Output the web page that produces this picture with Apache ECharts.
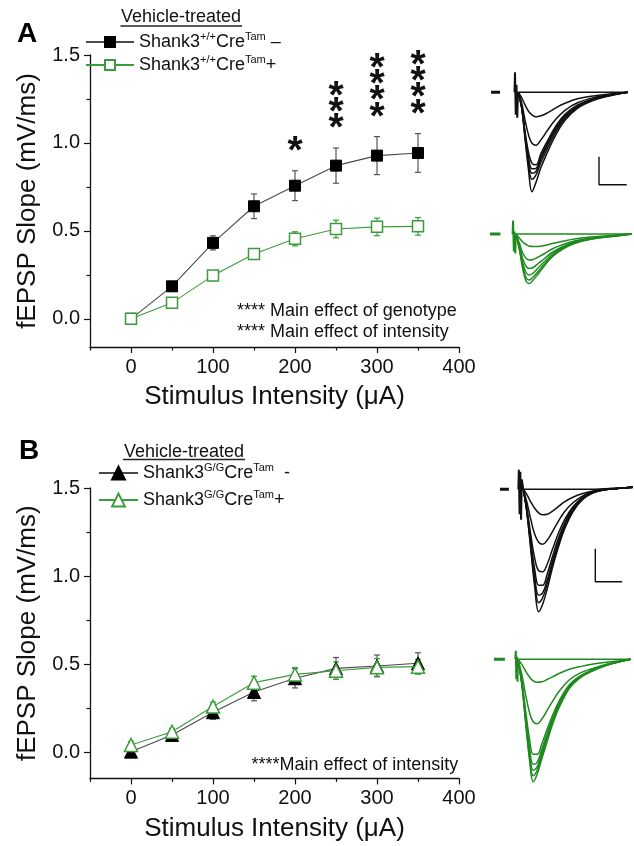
<!DOCTYPE html>
<html><head><meta charset="utf-8">
<script src="https://cdn.jsdelivr.net/npm/echarts@6/dist/echarts.min.js"></script>
<style>html,body{margin:0;padding:0;background:#fff}#c{width:634px;height:846px}</style>
</head><body><div id="c"></div>
<script>
// ---------- data ----------
const intensity = [0, 50, 100, 150, 200, 250, 300, 350];
const aCtrlMean = [0.0, 0.185, 0.432, 0.64, 0.757, 0.871, 0.928, 0.943];
const aCtrlErr  = [0.01, 0.02, 0.04, 0.07, 0.085, 0.10, 0.108, 0.11];
const aCreMean  = [0.0, 0.091, 0.246, 0.369, 0.455, 0.511, 0.523, 0.526];
const aCreErr   = [0.01, 0.015, 0.015, 0.03, 0.04, 0.05, 0.05, 0.05];
const bCtrlMean = [0.002, 0.097, 0.226, 0.341, 0.419, 0.475, 0.489, 0.504];
const bCtrlErr  = [0.02, 0.03, 0.04, 0.05, 0.055, 0.062, 0.062, 0.06];
const bCreMean  = [0.04, 0.115, 0.258, 0.394, 0.441, 0.462, 0.481, 0.485];
const bCreErr   = [0.02, 0.02, 0.025, 0.036, 0.038, 0.05, 0.05, 0.042];
const starX     = [200, 250, 300, 350];
const starCount = [1, 3, 4, 4];
const xMajorTicks = [0, 100, 200, 300, 400];
const xMinorTicks = [-50, 50, 150, 250, 350];
const yMajorTicks = [0, 0.5, 1.0, 1.5];
const yMinorTicks = [0.25, 0.75, 1.25];
const nameA1 = 'Shank3+/+CreTam –';
const nameA2 = 'Shank3+/+CreTam+';
const nameB1 = 'Shank3G/GCreTam  -';
const nameB2 = 'Shank3G/GCreTam+';

// example traces (time in ms, voltage in mV)
const tA = [5.6, 6.3, 7.0, 7.7, 8.4, 9.2, 10.2, 11.5, 13, 15, 17.5, 21, 24.5, 27.6];
const tracesA = [
  [0, 0, 0, 0, 0, 0, 0, 0, 0, 0, 0, 0, 0, 0],
  [0, -0.1, -0.25, -0.38, -0.45, -0.49, -0.47, -0.41, -0.32, -0.22, -0.13, -0.07, -0.03, 0],
  [0, -0.2, -0.55, -0.85, -1.02, -1.06, -0.95, -0.76, -0.56, -0.36, -0.21, -0.1, -0.04, 0],
  [0, -0.25, -0.78, -1.2, -1.42, -1.45, -1.22, -0.97, -0.7, -0.44, -0.25, -0.12, -0.04, 0],
  [0, -0.26, -0.82, -1.3, -1.53, -1.52, -1.28, -1.02, -0.74, -0.47, -0.27, -0.13, -0.05, 0],
  [0, -0.27, -0.85, -1.38, -1.62, -1.58, -1.33, -1.06, -0.77, -0.49, -0.28, -0.13, -0.05, 0],
  [0, -0.28, -0.88, -1.45, -1.74, -1.65, -1.4, -1.12, -0.82, -0.52, -0.3, -0.14, -0.05, 0],
  [0, -0.3, -0.92, -1.55, -1.99, -1.8, -1.5, -1.2, -0.88, -0.56, -0.32, -0.15, -0.06, 0]
];
const tAG = [5.2, 5.9, 6.6, 7.3, 7.9, 8.7, 9.7, 11, 12.5, 14.5, 17, 20.5, 24.5, 28.6];
const tracesAG = [
  [0, 0, 0, 0, 0, 0, 0, 0, 0, 0, 0, 0, 0, 0],
  [0, -0.08, -0.16, -0.21, -0.24, -0.25, -0.25, -0.23, -0.19, -0.15, -0.1, -0.06, -0.03, 0],
  [0, -0.18, -0.38, -0.49, -0.52, -0.51, -0.46, -0.39, -0.3, -0.22, -0.14, -0.08, -0.04, 0],
  [0, -0.22, -0.5, -0.65, -0.69, -0.67, -0.59, -0.49, -0.37, -0.26, -0.16, -0.09, -0.04, 0],
  [0, -0.26, -0.58, -0.78, -0.82, -0.78, -0.68, -0.55, -0.41, -0.28, -0.17, -0.09, -0.04, 0],
  [0, -0.28, -0.65, -0.88, -0.92, -0.86, -0.75, -0.6, -0.44, -0.3, -0.18, -0.1, -0.05, 0],
  [0, -0.3, -0.7, -0.95, -0.99, -0.92, -0.8, -0.63, -0.46, -0.31, -0.19, -0.1, -0.05, 0]
];
const tB = [5.7, 6.4, 7.2, 8.0, 8.8, 9.6, 10.5, 11.5, 12.7, 14, 15.7, 17.5, 19.5, 22, 25, 27.8];
const tracesB = [
  [0, 0, 0, 0, 0, 0, 0, 0, 0, 0, 0, 0, 0, 0.01, 0.02, 0.04],
  [0, -0.1, -0.25, -0.38, -0.47, -0.51, -0.5, -0.44, -0.35, -0.25, -0.16, -0.09, -0.04, 0, 0.02, 0.04],
  [0, -0.25, -0.6, -0.9, -1.06, -1.1, -1.02, -0.86, -0.65, -0.45, -0.27, -0.14, -0.05, 0, 0.02, 0.04],
  [0, -0.36, -0.9, -1.38, -1.63, -1.65, -1.5, -1.22, -0.9, -0.61, -0.35, -0.17, -0.06, -0.01, 0.02, 0.04],
  [0, -0.4, -1.02, -1.6, -1.92, -1.92, -1.7, -1.37, -1.0, -0.68, -0.38, -0.19, -0.07, -0.01, 0.02, 0.04],
  [0, -0.42, -1.1, -1.75, -2.12, -2.07, -1.82, -1.46, -1.07, -0.73, -0.41, -0.2, -0.07, -0.01, 0.02, 0.04],
  [0, -0.43, -1.15, -1.85, -2.27, -2.17, -1.9, -1.52, -1.12, -0.76, -0.43, -0.21, -0.08, -0.01, 0.02, 0.04],
  [0, -0.45, -1.2, -1.95, -2.45, -2.3, -2.0, -1.6, -1.18, -0.8, -0.45, -0.22, -0.08, -0.01, 0.02, 0.04]
];
const tBG = [5.6, 6.4, 7.2, 8.0, 8.7, 9.5, 10.4, 11.4, 12.6, 14, 16, 18, 20.5, 23.5, 26, 28.3];
const tracesBG = [
  [0, 0, 0, 0, 0, 0, 0, 0, 0, 0, 0, 0, 0, 0, 0, 0],
  [0, -0.1, -0.24, -0.36, -0.43, -0.46, -0.45, -0.41, -0.35, -0.28, -0.2, -0.15, -0.1, -0.06, -0.03, 0],
  [0, -0.3, -0.72, -1.08, -1.25, -1.29, -1.2, -1.04, -0.84, -0.63, -0.41, -0.28, -0.19, -0.1, -0.05, 0],
  [0, -0.42, -1.05, -1.62, -1.9, -1.9, -1.7, -1.43, -1.12, -0.82, -0.51, -0.34, -0.22, -0.11, -0.05, 0],
  [0, -0.45, -1.15, -1.8, -2.1, -2.06, -1.81, -1.52, -1.18, -0.86, -0.53, -0.35, -0.22, -0.11, -0.05, 0],
  [0, -0.47, -1.2, -1.9, -2.22, -2.15, -1.88, -1.57, -1.22, -0.89, -0.55, -0.36, -0.23, -0.11, -0.05, 0],
  [0, -0.48, -1.25, -1.98, -2.33, -2.22, -1.94, -1.62, -1.26, -0.92, -0.56, -0.37, -0.23, -0.12, -0.05, 0],
  [0, -0.5, -1.3, -2.05, -2.45, -2.3, -2.0, -1.68, -1.3, -0.95, -0.58, -0.38, -0.24, -0.12, -0.05, 0]
];
// pre-stimulus baseline dash [t0, t1], stimulus artifact (t, v), scale bars
const dashA = [0.2, 2.0];
const dashAG = [0.0, 2.1];
const dashB = [1.0, 2.8];
const dashBG = [0.8, 3.0];
const artA  = [[4.9, 0], [5.0, 0.4], [5.15, -0.45], [5.3, 0.15], [5.45, -0.51], [5.6, 0]];
const artAG = [[4.55, 0], [4.65, 0.27], [4.8, -0.35], [4.95, 0.05], [5.1, -0.39], [5.2, 0]];
const artB  = [[4.7, 0], [4.8, 0.39], [4.95, -0.5], [5.1, 0.35], [5.25, -0.61], [5.4, 0.2], [5.7, 0]];
const artBG = [[5.1, 0], [5.2, 0.17], [5.3, -0.4], [5.45, 0.05], [5.55, -0.45], [5.6, 0]];
const scaleA = [[21.8, -1.29], [21.8, -1.85], [27.34, -1.85]];
const scaleB = [[20.2, -1.19], [20.2, -1.85], [25.6, -1.85]];

// ---------- styles ----------
const FF = '"Liberation Sans", Arial, sans-serif';
const BLACK_LINE = '#4a4a4a';
const GREEN = '#3b9c3b';
const GREEN_TR = '#1f8a1f';

const chart = echarts.init(document.getElementById('c'), null, {renderer: 'canvas'});

const gridsMain = [
  {left: 90, top: 55, width: 369, height: 292},
  {left: 90, top: 488, width: 369, height: 290.4}
];
const yMins = [-0.16, -0.15];
const gridsTrace = [
  {left: 490, top: 72.3, width: 140, height: 130, x: [0, 28], y: [-2.2, 0.4]},
  {left: 490, top: 214, width: 145, height: 90, x: [0, 29], y: [-1.4, 0.4]},
  {left: 495, top: 469.3, width: 140, height: 150, x: [0, 28], y: [-2.6, 0.4]},
  {left: 490, top: 639.3, width: 145, height: 150, x: [0, 29], y: [-2.6, 0.4]}
];

const grid = [], xAxis = [], yAxis = [];
gridsMain.forEach((g, gi) => {
  grid.push(Object.assign({containLabel: false}, g));
  const axLine = {show: true, onZero: false, lineStyle: {color: '#111', width: 1.3}};
  xAxis.push({
    gridIndex: gi, type: 'value', min: -50, max: 400, position: 'bottom',
    axisLine: axLine, splitLine: {show: false},
    axisTick: {show: true, inside: false, length: 6, customValues: xMajorTicks, lineStyle: {color: '#111', width: 1.2}},
    axisLabel: {show: true, customValues: xMajorTicks, margin: 10, fontSize: 20, color: '#111', fontFamily: FF},
    name: 'Stimulus Intensity (μA)', nameLocation: 'middle', nameGap: 37,
    nameTextStyle: {fontSize: 26, color: '#111', fontFamily: FF}
  });
  xAxis.push({
    gridIndex: gi, type: 'value', min: -50, max: 400, position: 'bottom',
    axisLine: {show: false, onZero: false}, splitLine: {show: false},
    axisTick: {show: true, inside: false, length: 3.5, customValues: xMinorTicks, lineStyle: {color: '#111', width: 1.2}},
    axisLabel: {show: false}
  });
  yAxis.push({
    gridIndex: gi, type: 'value', min: yMins[gi], max: 1.5, position: 'left',
    axisLine: axLine, splitLine: {show: false},
    axisTick: {show: true, inside: false, length: 6, customValues: yMajorTicks, lineStyle: {color: '#111', width: 1.2}},
    axisLabel: {show: true, customValues: yMajorTicks, margin: 10, fontSize: 20, color: '#111', fontFamily: FF,
      formatter: v => v.toFixed(1)},
    name: 'fEPSP Slope (mV/ms)', nameLocation: 'middle', nameGap: 45,
    nameTextStyle: {fontSize: 26, color: '#111', fontFamily: FF}
  });
  yAxis.push({
    gridIndex: gi, type: 'value', min: yMins[gi], max: 1.5, position: 'left',
    axisLine: {show: false, onZero: false}, splitLine: {show: false},
    axisTick: {show: true, inside: false, length: 3.5, customValues: yMinorTicks, lineStyle: {color: '#111', width: 1.2}},
    axisLabel: {show: false}
  });
});
gridsTrace.forEach((g, k) => {
  grid.push({left: g.left, top: g.top, width: g.width, height: g.height});
  xAxis.push({gridIndex: 2 + k, type: 'value', min: g.x[0], max: g.x[1], show: false});
  yAxis.push({gridIndex: 2 + k, type: 'value', min: g.y[0], max: g.y[1], show: false});
});
const TRACE_AXIS0 = 4; // first trace axis index (after 2 axes per main grid)

const series = [];
function errSeries(gi, means, errs, color) {
  return {
    type: 'custom', xAxisIndex: gi * 2, yAxisIndex: gi * 2, z: 3, silent: true,
    data: intensity.map((x, i) => [x, means[i] - errs[i], means[i] + errs[i]]),
    encode: {x: 0, y: [1, 2]},
    renderItem: (params, api) => {
      const lo = api.coord([api.value(0), api.value(1)]);
      const hi = api.coord([api.value(0), api.value(2)]);
      const w = 3;
      const st = {stroke: color, lineWidth: 1.2};
      return {type: 'group', children: [
        {type: 'line', shape: {x1: lo[0], y1: lo[1], x2: hi[0], y2: hi[1]}, style: st},
        {type: 'line', shape: {x1: lo[0] - w, y1: lo[1], x2: lo[0] + w, y2: lo[1]}, style: st},
        {type: 'line', shape: {x1: hi[0] - w, y1: hi[1], x2: hi[0] + w, y2: hi[1]}, style: st}
      ]};
    }
  };
}
function meanSeries(gi, name, means, symbol, size, itemStyle, lineColor, z) {
  return {
    type: 'line', name, xAxisIndex: gi * 2, yAxisIndex: gi * 2, z,
    data: intensity.map((x, i) => [x, means[i]]),
    symbol, symbolSize: size, showAllSymbol: true,
    lineStyle: {color: lineColor, width: 1.1},
    itemStyle
  };
}
series.push(errSeries(0, aCtrlMean, aCtrlErr, '#555'));
series.push(errSeries(0, aCreMean, aCreErr, GREEN));
series.push(meanSeries(0, nameA1, aCtrlMean, 'rect', 11, {color: '#000', borderColor: '#000', borderWidth: 1}, BLACK_LINE, 5));
series.push(meanSeries(0, nameA2, aCreMean, 'rect', 11, {color: '#fff', borderColor: GREEN, borderWidth: 1.5}, GREEN, 5));
series.push(errSeries(1, bCtrlMean, bCtrlErr, '#555'));
series.push(errSeries(1, bCreMean, bCreErr, GREEN));
series.push(meanSeries(1, nameB1, bCtrlMean, 'triangle', 13, {color: '#000', borderColor: '#000', borderWidth: 1}, BLACK_LINE, 5));
series.push(meanSeries(1, nameB2, bCreMean, 'triangle', 13, {color: '#fff', borderColor: GREEN, borderWidth: 1.5}, GREEN, 6));

// significance stars above vehicle Cre- points in panel A
series.push({
  type: 'custom', xAxisIndex: 0, yAxisIndex: 0, z: 7, silent: true,
  data: starX.map((x, i) => {
    const idx = intensity.indexOf(x);
    return [x, aCtrlMean[idx] + aCtrlErr[idx], starCount[i]];
  }),
  renderItem: (params, api) => {
    const p = api.coord([api.value(0), api.value(1)]);
    const n = api.value(2);
    const children = [];
    for (let k = 0; k < n; k++) {
      children.push({type: 'text', x: p[0], y: p[1] - 27.5 - k * 16.4 + 9,
        style: {text: '*', fontSize: 39, fontWeight: 'bold', fontFamily: FF, fill: '#111', align: 'center', verticalAlign: 'middle'}});
    }
    return {type: 'group', children};
  }
});

function traceLine(k, times, vals, color, width) {
  return {type: 'line', xAxisIndex: TRACE_AXIS0 + k, yAxisIndex: TRACE_AXIS0 + k, silent: true, clip: false,
    data: times.map((t, i) => [t, vals[i]]), showSymbol: false, symbol: 'none', smooth: 0.4,
    lineStyle: {color, width}};
}
function pathLine(k, pts, color, width) {
  return {type: 'line', xAxisIndex: TRACE_AXIS0 + k, yAxisIndex: TRACE_AXIS0 + k, silent: true, clip: false,
    data: pts, showSymbol: false, symbol: 'none', lineStyle: {color, width}};
}
const traceSets = [
  [tA, tracesA, '#111', dashA, artA, scaleA],
  [tAG, tracesAG, GREEN_TR, dashAG, artAG, null],
  [tB, tracesB, '#111', dashB, artB, scaleB],
  [tBG, tracesBG, GREEN_TR, dashBG, artBG, null]
];
traceSets.forEach(([times, trs, color, dash, art, scale], k) => {
  trs.forEach(v => series.push(traceLine(k, times, v, color, 1.5)));
  series.push(pathLine(k, [[dash[0], 0], [dash[1], 0]], color, 3));
  series.push(pathLine(k, art, color, 2));
  if (scale) series.push(pathLine(k, scale, '#111', 1.4));
});

const legendText = {};
legendText[nameA1] = '{b|Shank3}{s|+/+}{b|Cre}{s|Tam}{b| –}';
legendText[nameA2] = '{b|Shank3}{s|+/+}{b|Cre}{s|Tam}{b|+}';
legendText[nameB1] = '{b|Shank3}{s|G/G}{b|Cre}{s|Tam}{b|  -}';
legendText[nameB2] = '{b|Shank3}{s|G/G}{b|Cre}{s|Tam}{b|+}';
function mkLegend(name, left, top, w, h) {
  return {
    data: [name], left, top, orient: 'horizontal', padding: 0, itemGap: 0,
    itemWidth: w, itemHeight: h, itemTextGap: 7, selectedMode: false,
    formatter: n => legendText[n],
    textStyle: {fontSize: 18, fontFamily: FF, color: '#111',
      rich: {b: {fontSize: 18, fontFamily: FF, color: '#111', lineHeight: 22},
             s: {fontSize: 11, fontFamily: FF, color: '#111', verticalAlign: 'top', lineHeight: 13}}}
  };
}
const legend = [
  mkLegend(nameA1, 85, 31, 48, 12.5),
  mkLegend(nameA2, 85, 54, 48, 12.5),
  mkLegend(nameB1, 98, 462, 39, 16),
  mkLegend(nameB2, 98, 489, 39, 16)
];

const graphic = [
  {type: 'text', left: 17, top: 20, style: {text: 'A', fontSize: 28, fontWeight: 'bold', fontFamily: FF, fill: '#000'}},
  {type: 'text', left: 19, top: 437, style: {text: 'B', fontSize: 28, fontWeight: 'bold', fontFamily: FF, fill: '#000'}},
  {type: 'text', x: 181, y: 17, style: {text: 'Vehicle-treated', fontSize: 18, fontFamily: FF, fill: '#111', align: 'center', verticalAlign: 'middle'}},
  {type: 'line', shape: {x1: 120.5, y1: 26, x2: 242, y2: 26}, style: {stroke: '#222', lineWidth: 1.3}},
  {type: 'text', x: 184, y: 452, style: {text: 'Vehicle-treated', fontSize: 18, fontFamily: FF, fill: '#111', align: 'center', verticalAlign: 'middle'}},
  {type: 'line', shape: {x1: 123, y1: 459.5, x2: 245, y2: 459.5}, style: {stroke: '#222', lineWidth: 1.3}},
  {type: 'text', x: 237, y: 311, style: {text: '**** Main effect of genotype', fontSize: 18, fontFamily: FF, fill: '#111', verticalAlign: 'middle'}},
  {type: 'text', x: 237, y: 332, style: {text: '**** Main effect of intensity', fontSize: 18, fontFamily: FF, fill: '#111', verticalAlign: 'middle'}},
  {type: 'text', x: 251.5, y: 765, style: {text: '****Main effect of intensity', fontSize: 18, fontFamily: FF, fill: '#111', verticalAlign: 'middle'}}
];

chart.setOption({
  animation: false,
  backgroundColor: '#fff',
  grid, xAxis, yAxis, series, legend, graphic
});
</script>
</body></html>
